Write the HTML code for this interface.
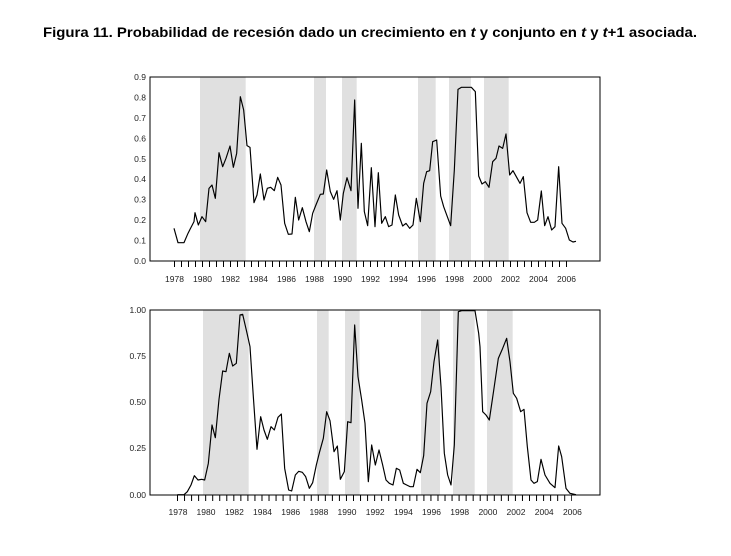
<!DOCTYPE html>
<html><head><meta charset="utf-8"><style>
html,body{margin:0;padding:0;background:#fff;}
svg{display:block;}
.t{font-family:"Liberation Sans",sans-serif;font-size:8.5px;fill:#222;}
</style></head><body>
<svg width="731" height="556" viewBox="0 0 731 556" xmlns="http://www.w3.org/2000/svg">
<text x="43" y="37" font-family="Liberation Sans, sans-serif" font-weight="bold" font-size="14" textLength="654" lengthAdjust="spacingAndGlyphs">Figura 11. Probabilidad de recesión dado un crecimiento en <tspan font-style="italic">t</tspan> y conjunto en <tspan font-style="italic">t</tspan> y <tspan font-style="italic">t</tspan>+1 asociada.</text>

<!-- TOP CHART -->
<g fill="#e0e0e0">
<rect x="200" y="77" width="45.7" height="184"/>
<rect x="314" y="77" width="12" height="184"/>
<rect x="342" y="77" width="14.7" height="184"/>
<rect x="418" y="77" width="17.7" height="184"/>
<rect x="449" y="77" width="22" height="184"/>
<rect x="484" y="77" width="24.7" height="184"/>
</g>
<rect x="150" y="77" width="450" height="184" fill="none" stroke="#000" stroke-width="1"/>
<line x1="174" y1="264" x2="567" y2="264" stroke="#000" stroke-width="6" stroke-dasharray="1 6"/>
<g class="t" text-anchor="end">
<text x="146" y="80">0.9</text><text x="146" y="100.4">0.8</text><text x="146" y="120.9">0.7</text>
<text x="146" y="141.3">0.6</text><text x="146" y="161.8">0.5</text><text x="146" y="182.2">0.4</text>
<text x="146" y="202.7">0.3</text><text x="146" y="223.1">0.2</text><text x="146" y="243.6">0.1</text><text x="146" y="264">0.0</text>
</g>
<g class="t" text-anchor="middle">
<text x="174.5" y="282">1978</text><text x="202.5" y="282">1980</text><text x="230.5" y="282">1982</text><text x="258.5" y="282">1984</text>
<text x="286.5" y="282">1986</text><text x="314.5" y="282">1988</text><text x="342.5" y="282">1990</text><text x="370.5" y="282">1992</text>
<text x="398.5" y="282">1994</text><text x="426.5" y="282">1996</text><text x="454.5" y="282">1998</text><text x="482.5" y="282">2000</text>
<text x="510.5" y="282">2002</text><text x="538.5" y="282">2004</text><text x="566.5" y="282">2006</text>
</g>
<g transform="translate(110,60) scale(0.33333)">
<polyline fill="none" stroke="#000" stroke-width="3.5" stroke-linejoin="round" points="192,505 204,548 222,548 234,520 240,508 252,485 255,458 265,495 276,470 287,485 297,385 306,375 316,415 327,278 338,320 348,295 360,258 370,322 380,280 391,110 401,150 411,257 420,262 432,428 441,405 451,342 462,420 472,385 482,382 493,392 503,352 513,375 524,490 535,523 546,522 556,412 566,480 577,443 588,485 598,515 608,460 619,432 631,403 640,402 650,330 661,395 671,418 681,392 691,480 700,400 711,353 723,392 734,120 744,445 754,250 763,455 773,497 784,323 795,500 805,338 815,490 826,470 836,500 846,495 856,405 866,465 878,498 888,490 899,505 909,495 919,415 931,485 941,370 950,335 959,332 968,245 980,240 992,408 1001,440 1012,470 1022,497 1033,330 1044,88 1054,82 1084,82 1096,95 1106,348 1116,372 1126,365 1137,382 1148,305 1158,295 1167,258 1178,265 1188,222 1199,345 1209,332 1220,352 1230,370 1240,350 1251,458 1262,487 1273,487 1283,480 1294,393 1304,497 1314,470 1325,510 1335,500 1346,320 1356,490 1367,505 1378,540 1389,546 1398,544"/>
</g>

<!-- BOTTOM CHART -->
<g fill="#e0e0e0">
<rect x="203" y="310" width="45.7" height="185"/>
<rect x="317" y="310" width="11.7" height="185"/>
<rect x="345" y="310" width="14.7" height="185"/>
<rect x="421" y="310" width="19" height="185"/>
<rect x="453" y="310" width="21.7" height="185"/>
<rect x="487" y="310" width="25.7" height="185"/>
</g>
<rect x="150" y="310" width="450" height="185" fill="none" stroke="#000" stroke-width="1"/>
<line x1="177" y1="498" x2="572" y2="498" stroke="#000" stroke-width="6" stroke-dasharray="1 6.04"/>
<g class="t" text-anchor="end">
<text x="146" y="313">1.00</text><text x="146" y="359">0.75</text><text x="146" y="405">0.50</text>
<text x="146" y="451">0.25</text><text x="146" y="498">0.00</text>
</g>
<g class="t" text-anchor="middle">
<text x="178" y="515">1978</text><text x="206" y="515">1980</text><text x="234.4" y="515">1982</text><text x="262.5" y="515">1984</text>
<text x="290.7" y="515">1986</text><text x="318.9" y="515">1988</text><text x="347" y="515">1990</text><text x="375.2" y="515">1992</text>
<text x="403.4" y="515">1994</text><text x="431.5" y="515">1996</text><text x="459.7" y="515">1998</text><text x="487.9" y="515">2000</text>
<text x="516" y="515">2002</text><text x="544.2" y="515">2004</text><text x="572.4" y="515">2006</text>
</g>
<g transform="translate(110,300) scale(0.33333)">
<polyline fill="none" stroke="#000" stroke-width="3.5" stroke-linejoin="round" points="202,584 222,584 232,575 243,555 253,527 264,540 275,538 284,540 295,490 306,375 316,413 327,298 338,213 348,215 358,160 368,198 379,190 390,45 398,43 410,95 420,140 430,290 441,448 452,350 462,390 472,418 483,380 493,390 504,352 514,342 524,505 536,570 545,573 556,525 566,514 577,517 587,530 598,565 608,548 619,495 629,455 640,415 650,335 660,362 672,455 682,438 691,538 703,515 713,365 723,368 734,75 744,230 755,300 765,370 775,545 785,435 796,495 807,450 818,495 828,540 838,550 849,555 859,505 869,510 880,550 890,555 900,560 910,560 921,508 931,518 941,467 951,310 962,275 972,185 983,120 993,260 1003,460 1013,525 1023,555 1033,435 1045,35 1055,32 1095,32 1106,100 1110,140 1118,335 1128,345 1138,360 1152,265 1165,175 1178,145 1190,115 1200,185 1210,280 1220,295 1232,335 1242,328 1252,440 1263,540 1272,550 1282,545 1293,478 1305,525 1320,550 1335,563 1346,438 1355,470 1368,565 1380,580 1398,584"/>
</g>
</svg>
</body></html>
